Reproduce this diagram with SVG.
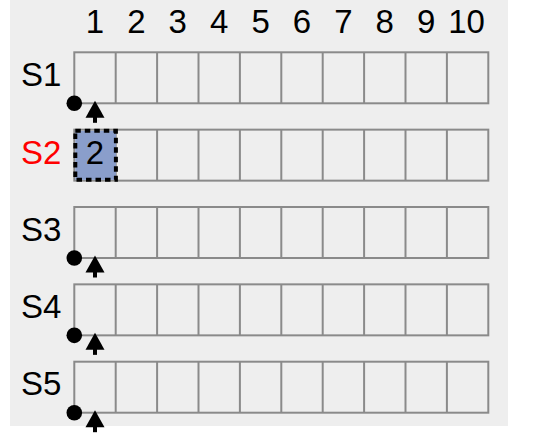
<svg xmlns="http://www.w3.org/2000/svg" xmlns:xlink="http://www.w3.org/1999/xlink" width="533" height="438" viewBox="0 0 533 438">
<style>
.lbl{font-family:"Liberation Sans",Arial,sans-serif;font-size:33px;fill:#000}
.num{text-anchor:middle}
.cell{fill:none;stroke:#8a8a8a;stroke-width:2}
.red{fill:#ff0000}
</style>
<defs>
<g id="ptr">
<circle cx="74.3" cy="0" r="7.8" fill="#000"/>
<path d="M95,-2.5 L85.5,14.5 L104.5,14.5 Z" fill="#000"/>
<rect x="93" y="13" width="4" height="6.5" fill="#000"/>
</g>
<g id="row">
<rect class="cell" x="74.3" y="0" width="414" height="51"/>
<path class="cell" d="M115.7,0V51M157.1,0V51M198.5,0V51M239.9,0V51M281.3,0V51M322.7,0V51M364.1,0V51M405.5,0V51M446.9,0V51"/>
</g>
</defs>
<rect x="10" y="0" width="498" height="426" fill="#eeeeee"/>
<g id="header" class="lbl num">
<text x="95" y="33.3">1</text>
<text x="136.4" y="33.3">2</text>
<text x="177.8" y="33.3">3</text>
<text x="219.2" y="33.3">4</text>
<text x="260.6" y="33.3">5</text>
<text x="302" y="33.3">6</text>
<text x="343.4" y="33.3">7</text>
<text x="384.8" y="33.3">8</text>
<text x="426.2" y="33.3">9</text>
<text x="466.6" y="33.3">10</text>
</g>
<g id="S1">
<use xlink:href="#row" href="#row" y="52.3"/>
<text class="lbl" x="21" y="85.5">S1</text>
</g>
<g id="S2">
<use xlink:href="#row" href="#row" y="129.65"/>
<text class="lbl red" x="21" y="163.8">S2</text>
<rect x="75.3" y="130.8" width="40.6" height="49" fill="#8a9ecb" stroke="#000" stroke-width="4" stroke-dasharray="5.5,4"/>
<text class="lbl num" x="95" y="163.5">2</text>
</g>
<g id="S3">
<use xlink:href="#row" href="#row" y="207"/>
<text class="lbl" x="21" y="240.5">S3</text>
</g>
<g id="S4">
<use xlink:href="#row" href="#row" y="284.35"/>
<text class="lbl" x="21" y="317.8">S4</text>
</g>
<g id="S5">
<use xlink:href="#row" href="#row" y="361.7"/>
<text class="lbl" x="21" y="395.2">S5</text>
</g>
<g id="connectors">
<use xlink:href="#ptr" href="#ptr" y="103.3"/>
<use xlink:href="#ptr" href="#ptr" y="258"/>
<use xlink:href="#ptr" href="#ptr" y="335.35"/>
<use xlink:href="#ptr" href="#ptr" y="412.7"/>
</g>
</svg>
